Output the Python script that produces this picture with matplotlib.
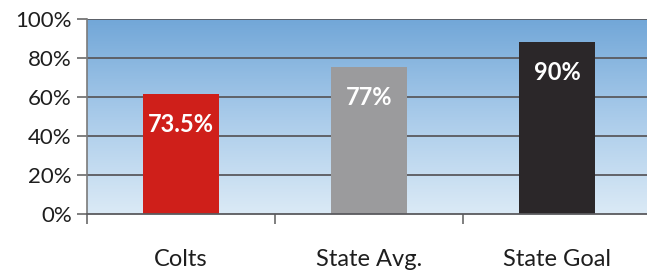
import numpy as np
import matplotlib.pyplot as plt
from matplotlib.colors import LinearSegmentedColormap

categories = ['Colts', 'State Avg.', 'State Goal']
bar_values = [61.5, 75.5, 88.2]
bar_labels = ['73.5%', '77%', '90%']
bar_colors = ['#cf1f1a', '#9b9b9d', '#2b2729']
y_ticks = [0, 20, 40, 60, 80, 100]

plt.rcParams['font.family'] = ['Lato', 'DejaVu Sans']

fig = plt.figure(figsize=(6.47, 2.73), dpi=100)
ax = fig.add_axes([87 / 647, 59 / 273, 1 - 87 / 647, 195 / 273])

x = np.arange(len(categories))
xmax = (647 - 87) / 188 - 0.5
ax.set_xlim(-0.5, xmax)
ax.set_ylim(0, 100)

# фон: градиент от синего сверху к светлому снизу
grad = np.linspace(0, 1, 256).reshape(-1, 1)
cmap = LinearSegmentedColormap.from_list('bg', ['#dbeaf6', '#a9cbea', '#72a7d8'])
ax.imshow(grad, aspect='auto', cmap=cmap, origin='lower',
          extent=[-0.5, xmax, 0, 100], zorder=0)

for yv in y_ticks[1:]:
    ax.axhline(yv, color='#5a5a5e', lw=1.3, zorder=1)

bars = ax.bar(x, bar_values, width=0.4, color=bar_colors, zorder=2)
for rect, lab in zip(bars, bar_labels):
    ax.annotate(lab, (rect.get_x() + rect.get_width() / 2, rect.get_height()),
                xytext=(0, -22), textcoords='offset points',
                ha='center', va='center', color='white',
                fontsize=17, fontweight='bold', zorder=3)

ax.set_yticks(y_ticks)
ax.set_yticklabels([f'{v}%' for v in y_ticks], fontsize=16, color='#1e1e1e')
ax.set_xticks(x)
ax.set_xticklabels(categories, fontsize=17, color='#1e1e1e')
ax.tick_params(axis='x', length=0, pad=25)
ax.tick_params(axis='y', length=7, width=1.2, color='#6a6a6a', pad=4)

# отметки между категориями
ax.set_xticks([-0.5, 0.5, 1.5], minor=True)
ax.tick_params(axis='x', which='minor', length=7, width=1.2, color='#6a6a6a')

for side in ['top', 'right']:
    ax.spines[side].set_visible(False)
ax.spines['left'].set_color('#7a7a7a')
ax.spines['left'].set_linewidth(1.2)
ax.spines['bottom'].set_color('#5a5a5e')
ax.spines['bottom'].set_linewidth(1.3)

fig.savefig('out.png', dpi=100, facecolor='white')
